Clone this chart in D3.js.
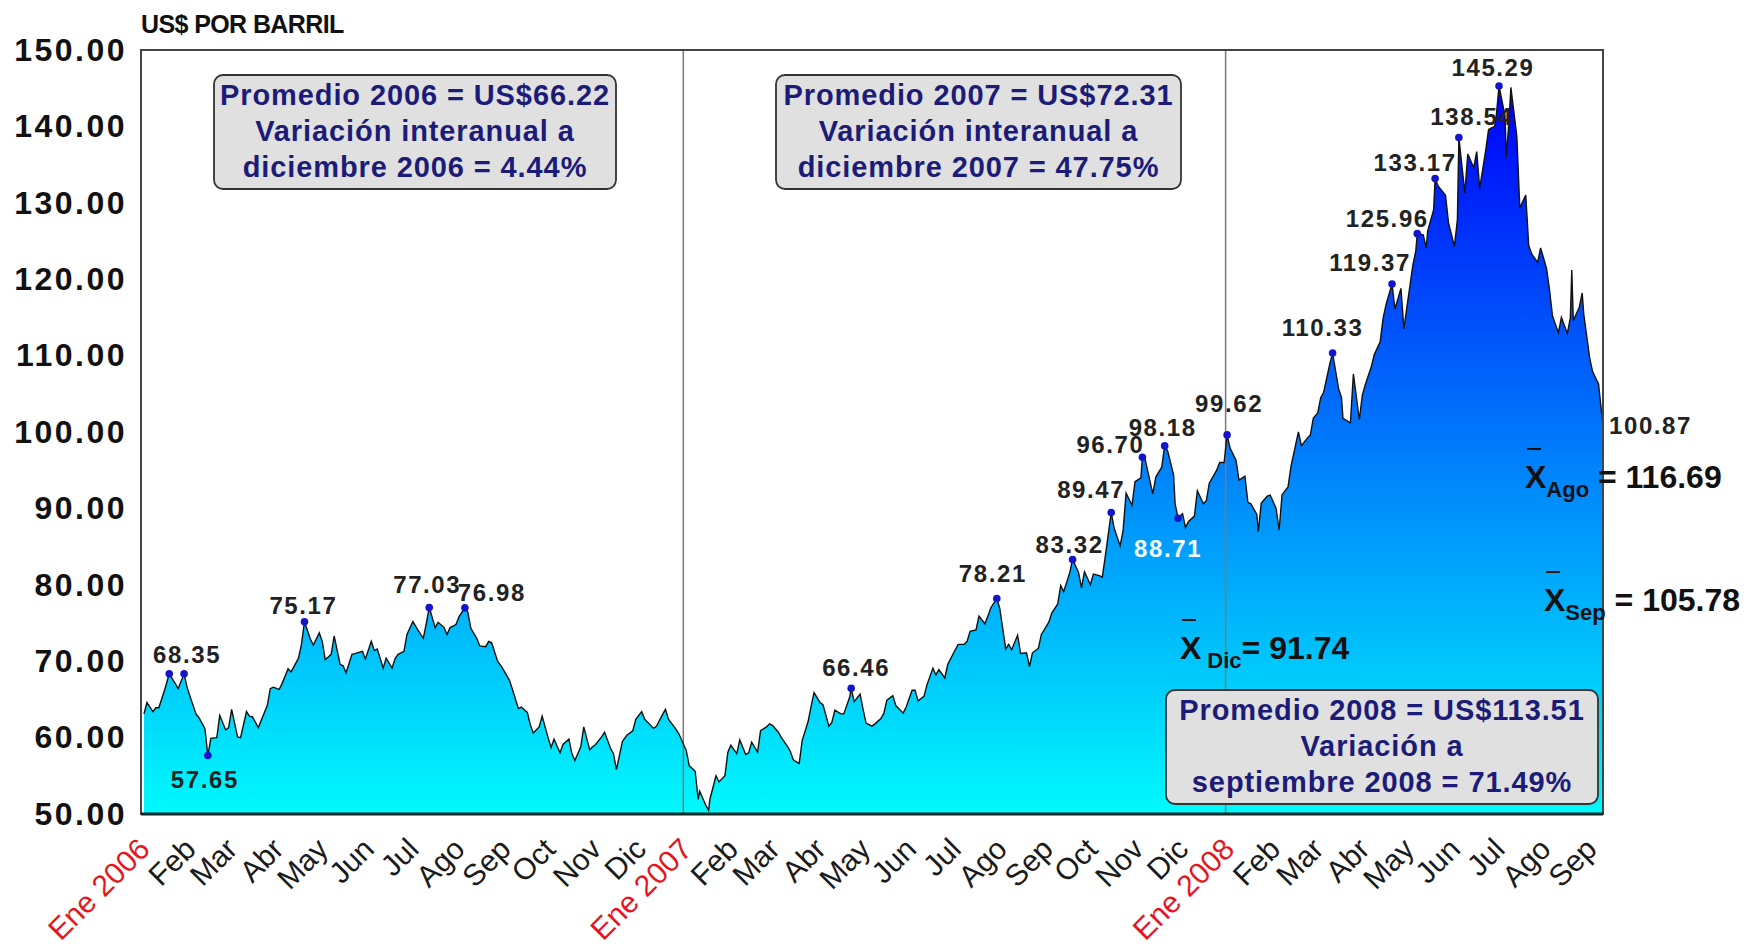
<!DOCTYPE html>
<html>
<head>
<meta charset="utf-8">
<script src="https://cdn.jsdelivr.net/npm/d3@7"></script>
<style>
  body { margin: 0; background: #fff; }
  text { font-family: "Liberation Sans", Arial, sans-serif; }
</style>
</head>
<body>
<svg id="chart" width="1746" height="948"></svg>
<script>
const days2006 = ["01-03","01-05","01-09","01-11","01-13","01-17","01-20","01-24","01-26","01-30",
  "02-01","02-03","02-07","02-09","02-13","02-15","02-17","02-21","02-23","02-27",
  "03-01","03-03","03-07","03-09","03-13","03-15","03-17","03-21","03-23","03-27","03-29","03-31",
  "04-04","04-06","04-10","04-12","04-17","04-19","04-21","04-25","04-27",
  "05-01","05-03","05-05","05-09","05-11","05-15","05-17","05-19","05-23","05-25","05-30",
  "06-01","06-05","06-07","06-09","06-13","06-15","06-19","06-21","06-23","06-27","06-29",
  "07-03","07-06","07-10","07-12","07-14","07-18","07-20","07-24","07-26","07-28",
  "08-01","08-03","08-07","08-09","08-11","08-15","08-17","08-21","08-23","08-25","08-29",
  "09-01","09-06","09-08","09-12","09-14","09-18","09-20","09-22","09-26","09-28",
  "10-02","10-04","10-06","10-10","10-12","10-16","10-18","10-20","10-24","10-26","10-30",
  "11-01","11-03","11-07","11-09","11-13","11-15","11-17","11-21","11-24","11-28","11-30",
  "12-04","12-06","12-08","12-12","12-14","12-18","12-20","12-22","12-27","12-29"];
const wti2006 = [63.1,64.6,63.4,63.9,63.9,66.3,68.35,67.1,66.4,68.35,
  66.6,65.4,63.1,62.6,61.2,57.65,59.9,60.0,62.9,61.0,
  61.3,63.7,60.1,60.0,63.4,62.8,62.7,61.3,62.3,64.2,66.4,66.6,
  66.3,67.1,69.0,68.6,70.4,72.2,75.17,72.9,72.1,
  73.7,72.6,70.2,70.9,73.3,69.6,69.4,68.5,70.9,71.0,71.3,
  70.3,72.6,71.4,71.6,69.1,70.4,69.1,70.3,70.9,71.3,73.5,
  75.2,74.2,73.0,74.9,77.03,74.4,75.1,74.4,73.5,74.4,
  74.8,75.8,76.98,76.4,74.3,73.0,72.0,71.9,72.6,72.4,70.0,
  69.2,67.5,66.3,63.8,64.0,63.3,61.7,60.6,61.4,62.8,
  60.0,58.7,59.8,58.0,59.1,59.8,57.9,57.0,58.8,61.4,58.4,
  58.8,59.1,60.1,60.7,58.6,57.9,55.8,59.5,60.3,60.9,62.4,
  63.4,62.4,62.0,61.2,61.5,63.0,63.7,62.4,61.1,60.5];

const days2007 = ["01-03","01-05","01-09","01-11","01-12","01-16","01-18","01-19","01-23","01-25","01-29","01-31",
  "02-02","02-06","02-08","02-12","02-14","02-16","02-20","02-22","02-26","02-28",
  "03-02","03-06","03-08","03-12","03-14","03-16","03-20","03-22","03-26","03-28","03-30",
  "04-03","04-05","04-09","04-11","04-13","04-17","04-19","04-23","04-24","04-26","04-30",
  "05-02","05-04","05-08","05-10","05-14","05-16","05-18","05-22","05-24","05-29","05-31",
  "06-04","06-06","06-08","06-12","06-14","06-18","06-20","06-22","06-26","06-28",
  "07-02","07-05","07-09","07-11","07-13","07-17","07-19","07-23","07-25","07-27","07-31",
  "08-02","08-06","08-08","08-10","08-14","08-16","08-20","08-22","08-24","08-28","08-30",
  "09-04","09-06","09-10","09-12","09-14","09-18","09-20","09-24","09-26","09-28",
  "10-02","10-04","10-08","10-10","10-12","10-16","10-18","10-22","10-24","10-26","10-30",
  "11-01","11-05","11-06","11-08","11-13","11-15","11-19","11-21","11-23","11-27","11-28","11-30",
  "12-03","12-05","12-07","12-11","12-13","12-17","12-19","12-21","12-26","12-28","12-31"];
const wti2007 = [58.3,56.3,55.6,51.9,53.0,51.2,50.48,52.0,55.0,54.2,55.0,58.1,
  59.0,57.9,59.7,57.8,58.0,59.4,58.1,60.9,61.4,61.8,
  61.6,60.7,60.0,58.9,58.2,57.1,56.6,59.6,62.1,64.1,65.9,
  64.6,64.3,61.5,62.0,63.6,63.1,63.1,65.3,66.46,64.7,65.7,
  63.7,61.9,61.5,61.8,62.5,63.2,64.9,65.5,64.2,63.2,64.0,
  66.2,66.2,64.8,65.4,66.9,69.1,68.2,68.9,67.8,69.6,
  71.1,72.2,72.2,72.6,73.9,74.1,75.9,74.9,75.9,77.0,78.21,
  76.9,71.6,72.2,71.5,73.4,71.0,71.1,69.3,71.1,71.7,73.5,
  75.1,76.3,77.5,79.9,79.1,81.5,83.32,81.6,79.6,81.7,
  80.0,81.4,81.2,81.0,83.7,89.47,87.4,85.1,87.1,92.0,90.4,
  93.5,94.0,96.70,96.3,91.9,94.1,95.4,98.18,97.5,94.4,90.6,88.71,
  89.3,87.5,88.3,89.0,92.3,90.6,91.0,93.3,95.0,96.0,96.0];

const days2008 = ["01-02","01-04","01-08","01-10","01-14","01-16","01-18","01-22","01-23","01-25","01-29","01-31",
  "02-04","02-06","02-08","02-12","02-14","02-19","02-21","02-25","02-27","02-29",
  "03-03","03-05","03-07","03-11","03-13","03-17","03-19","03-20","03-25","03-27","03-31",
  "04-02","04-04","04-08","04-10","04-14","04-16","04-18","04-22","04-24","04-28","04-30",
  "05-02","05-06","05-08","05-09","05-13","05-15","05-16","05-20","05-21","05-23","05-28","05-30",
  "06-03","06-05","06-06","06-10","06-12","06-16","06-18","06-20","06-24","06-26","06-30",
  "07-01","07-03","07-07","07-08","07-10","07-11","07-15","07-17","07-21","07-23","07-25","07-29","07-31",
  "08-04","08-06","08-08","08-12","08-14","08-18","08-20","08-21","08-22","08-26","08-28","08-29",
  "09-02","09-04","09-08","09-10","09-11"];
const wti2008 = [99.62,97.9,96.3,93.7,94.2,90.8,90.6,89.2,86.99,90.7,91.6,91.75,
  90.0,87.14,91.8,92.8,95.5,100.0,98.2,99.2,99.6,101.8,
  102.5,104.5,105.2,108.8,110.33,105.7,104.5,101.8,101.2,107.6,101.6,
  104.8,106.2,108.5,110.1,111.8,114.9,116.7,119.37,116.1,118.8,113.5,
  116.3,121.8,123.7,125.96,125.8,124.1,126.3,129.1,133.17,132.2,131.0,127.4,
  124.3,127.8,138.54,131.3,136.4,134.6,136.7,131.9,136.8,139.6,140.0,
  141.0,145.29,141.4,136.0,141.6,145.1,138.7,129.3,131.0,124.4,123.3,122.2,124.1,
  121.4,118.6,115.2,113.0,115.0,112.9,114.9,121.2,114.6,116.3,118.2,115.5,
  109.7,107.9,106.3,102.6,100.87];

// highlighted points (dots + value labels)
const markDates = ["2006-01-20","2006-01-30","2006-02-15","2006-04-21","2006-07-14","2006-08-07",
  "2007-04-24","2007-07-31","2007-09-20","2007-10-16","2007-11-06","2007-11-21","2007-11-30",
  "2008-01-02","2008-03-13","2008-04-22","2008-05-09","2008-05-21","2008-06-06","2008-07-03"];
const monthNames = ["Ene","Feb","Mar","Abr","May","Jun","Jul","Ago","Sep","Oct","Nov","Dic"];
const yTicks = [50,60,70,80,90,100,110,120,130,140,150];

const boxTexts = [
  ["Promedio 2006 = US$66.22", "Variación interanual a", "diciembre 2006 = 4.44%"],
  ["Promedio 2007 = US$72.31", "Variación interanual a", "diciembre 2007 = 47.75%"],
  ["Promedio 2008 = US$113.51", "Variación a", "septiembre 2008 = 71.49%"]
];
const monthAvgNames = ["Ago", "Sep", "Dic"];
const monthAvgValues = [116.69, 105.78, 91.74];

const parse = d3.timeParse("%Y-%m-%d");
const data = [];
[[2006, days2006, wti2006], [2007, days2007, wti2007], [2008, days2008, wti2008]].forEach(([yr, ds, vs]) => {
    ds.forEach((d, i) => data.push({ date: parse(yr + "-" + d), value: vs[i] }));
});

const svg = d3.select("#chart");
const plotLeft = 141, plotRight = 1603, plotTop = 50, plotBottom = 814;

const x = d3.scaleTime()
    .domain([new Date(2006, 0, 1), new Date(2008, 8, 11)])
    .range([plotLeft, plotRight]);
const y = d3.scaleLinear().domain([50, 150]).range([plotBottom, plotTop]);

// gradient for the area
const grad = svg.append("defs").append("linearGradient")
    .attr("id", "fillGrad")
    .attr("gradientUnits", "userSpaceOnUse")
    .attr("x1", 0).attr("x2", 0)
    .attr("y1", y(50)).attr("y2", y(145));
grad.append("stop").attr("offset", "0%").attr("stop-color", "#00FAFC");
grad.append("stop").attr("offset", "100%").attr("stop-color", "#0000FA");

svg.append("rect")
    .attr("x", plotLeft).attr("y", plotTop)
    .attr("width", plotRight - plotLeft).attr("height", plotBottom - plotTop)
    .attr("fill", "#fff");

const area = d3.area()
    .x(d => x(d.date))
    .y0(y(50))
    .y1(d => y(d.value));
const line = d3.line()
    .x(d => x(d.date))
    .y(d => y(d.value));

svg.append("path").datum(data)
    .attr("d", area)
    .attr("fill", "url(#fillGrad)");

// year separators
[new Date(2007, 0, 1), new Date(2008, 0, 1)].forEach(d => {
    svg.append("line")
        .attr("x1", x(d)).attr("x2", x(d))
        .attr("y1", plotTop).attr("y2", plotBottom)
        .attr("stroke", "#7a7a7a").attr("stroke-width", 1.5);
});

svg.append("path").datum(data)
    .attr("d", line)
    .attr("fill", "none")
    .attr("stroke", "#111")
    .attr("stroke-width", 1.4);

// frame
svg.append("rect")
    .attr("x", plotLeft).attr("y", plotTop)
    .attr("width", plotRight - plotLeft).attr("height", plotBottom - plotTop)
    .attr("fill", "none").attr("stroke", "#444").attr("stroke-width", 2);
svg.append("line")
    .attr("x1", plotLeft).attr("x2", plotRight)
    .attr("y1", plotBottom).attr("y2", plotBottom)
    .attr("stroke", "#0a2a2a").attr("stroke-width", 3);

// y axis
const yAxis = svg.append("g")
    .attr("transform", `translate(${plotLeft},0)`)
    .call(d3.axisLeft(y).tickValues(yTicks).tickFormat(d3.format(".2f")).tickSize(0).tickPadding(14));
yAxis.select(".domain").remove();
yAxis.selectAll("text")
    .attr("font-family", "'Liberation Sans', Arial, sans-serif")
    .attr("font-size", 32).attr("font-weight", "bold")
    .attr("letter-spacing", 2.5)
    .attr("fill", "#111");

svg.append("text")
    .attr("x", plotLeft).attr("y", 33)
    .attr("font-size", 25).attr("font-weight", "bold")
    .attr("letter-spacing", -0.6)
    .attr("fill", "#111")
    .text("US$ POR BARRIL");

// x axis: month labels
const months = d3.timeMonth.range(new Date(2006, 0, 1), new Date(2008, 8, 2));
const xAxis = svg.append("g")
    .attr("transform", `translate(0,${plotBottom})`)
    .call(d3.axisBottom(x).tickValues(months).tickSize(0)
        .tickFormat(d => d.getMonth() === 0 ? `Ene ${d.getFullYear()}` : monthNames[d.getMonth()]));
xAxis.select(".domain").remove();
xAxis.selectAll("text")
    .attr("x", 0).attr("y", 0).attr("dy", 0)
    .attr("transform", "translate(10,37) rotate(-45)")
    .attr("text-anchor", "end")
    .attr("font-family", "'Liberation Sans', Arial, sans-serif")
    .attr("font-size", 30)
    .attr("fill", d => d.getMonth() === 0 ? "#e8141c" : "#1a1a1a");

// dots and value labels
const labelOffsets = {
    "2006-01-30": [3, -11], "2006-02-15": [-3, 32], "2006-04-21": [-1, -8],
    "2006-07-14": [-2, -14], "2006-08-07": [27, -7], "2007-04-24": [5, -12],
    "2007-07-31": [-4, -16], "2007-09-20": [-3, -6], "2007-10-16": [-20, -14],
    "2007-11-06": [-32, -4], "2007-11-21": [-2, -10], "2007-11-30": [-10, 39],
    "2008-01-02": [2, -23], "2008-03-13": [-10, -17], "2008-04-22": [-22, -13],
    "2008-05-09": [-30, -7], "2008-05-21": [-20, -8], "2008-06-06": [13, -13],
    "2008-07-03": [-6, -10]
};
const fmtKey = d3.timeFormat("%Y-%m-%d");
const marks = data.filter(d => markDates.includes(fmtKey(d.date)));

svg.selectAll(".dot").data(marks).join("circle")
    .attr("class", "dot")
    .attr("cx", d => x(d.date)).attr("cy", d => y(d.value))
    .attr("r", 3.8)
    .attr("fill", "#1414c8");

svg.selectAll(".vlab").data(marks.filter(d => labelOffsets[fmtKey(d.date)])).join("text")
    .attr("class", "vlab")
    .attr("x", d => x(d.date) + labelOffsets[fmtKey(d.date)][0])
    .attr("y", d => y(d.value) + labelOffsets[fmtKey(d.date)][1])
    .attr("text-anchor", "middle")
    .attr("font-size", 24).attr("font-weight", "bold")
    .attr("letter-spacing", 1.6)
    .attr("fill", d => fmtKey(d.date) === "2007-11-30" ? "#f4ffff" : "#222")
    .text(d => d.value.toFixed(2));

// last value
const last = data[data.length - 1];
svg.append("text")
    .attr("x", x(last.date) + 6).attr("y", y(last.value) + 9)
    .attr("font-size", 24).attr("font-weight", "bold")
    .attr("letter-spacing", 1.6)
    .attr("fill", "#222")
    .text(last.value.toFixed(2));

// annotation boxes
const boxes = [
    { x: 214, y: 75, w: 402, h: 114 },
    { x: 776, y: 75, w: 405, h: 114 },
    { x: 1166, y: 690, w: 432, h: 114 }
];
boxes.forEach((b, i) => {
    svg.append("rect")
        .attr("x", b.x).attr("y", b.y).attr("width", b.w).attr("height", b.h)
        .attr("rx", 9)
        .attr("fill", "#e0e0e0").attr("stroke", "#333").attr("stroke-width", 1.8);
    boxTexts[i].forEach((t, j) => {
        svg.append("text")
            .attr("x", b.x + b.w / 2).attr("y", b.y + 30 + j * 36)
            .attr("text-anchor", "middle")
            .attr("font-size", 29).attr("font-weight", "bold")
            .attr("letter-spacing", 0.9)
            .attr("fill", "#1c1c78")
            .text(t);
    });
});

// monthly averages
const avgPos = [[1525, 488], [1544, 611], [1180, 659]];
monthAvgNames.forEach((m, i) => {
    const [px, py] = avgPos[i];
    const t = svg.append("text")
        .attr("x", px).attr("y", py)
        .attr("font-family", "Lato, 'Open Sans', sans-serif")
        .attr("font-size", 32).attr("font-weight", "bold")
        .attr("fill", "#111");
    t.append("tspan").text("X");
    t.append("tspan").attr("font-size", 22).attr("dy", 9).attr("dx", m === "Dic" ? 6 : 0).text(m);
    t.append("tspan").attr("dy", -9).text((m === "Dic" ? "= " : " = ") + monthAvgValues[i].toFixed(2));
    svg.append("line")
        .attr("x1", px + 2).attr("x2", px + 16)
        .attr("y1", py - 39).attr("y2", py - 39)
        .attr("stroke", "#111").attr("stroke-width", 2);
});
</script>
</body>
</html>
